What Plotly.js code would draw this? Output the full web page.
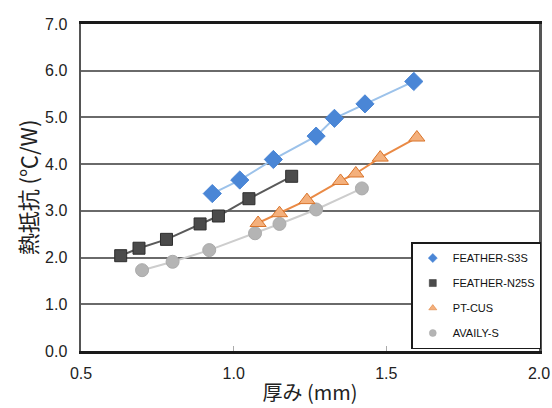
<!DOCTYPE html>
<html>
<head>
<meta charset="utf-8">
<script src="https://cdn.plot.ly/plotly-3.0.1.min.js"></script>
<style>
html,body{margin:0;padding:0;background:#fff;}
#chart{width:552px;height:408px;}
</style>
</head>
<body>
<div id="chart"></div>
<script>
// Series names
const seriesNames = ["FEATHER-S3S", "FEATHER-N25S", "PT-CUS", "AVAILY-S"];

// Thickness (mm) and thermal resistance (°C/W)
const s3sX = [0.93, 1.02, 1.13, 1.27, 1.33, 1.43, 1.59];
const s3sY = [3.37, 3.66, 4.10, 4.60, 4.98, 5.29, 5.77];

const n25sX = [0.63, 0.69, 0.78, 0.89, 0.95, 1.05, 1.19];
const n25sY = [2.04, 2.20, 2.39, 2.72, 2.89, 3.26, 3.74];

const ptcusX = [1.08, 1.15, 1.24, 1.35, 1.40, 1.48, 1.60];
const ptcusY = [2.74, 2.95, 3.23, 3.64, 3.80, 4.14, 4.57];

const availyX = [0.70, 0.80, 0.92, 1.07, 1.15, 1.27, 1.42];
const availyY = [1.73, 1.91, 2.16, 2.52, 2.72, 3.03, 3.48];

// Axis tick labels
const xTickVals = [0.5, 1.0, 1.5, 2.0];
const xTickText = ["0.5", "1.0", "1.5", "2.0"];
const yTickVals = [0, 1, 2, 3, 4, 5, 6, 7];
const yTickText = ["0.0", "1.0", "2.0", "3.0", "4.0", "5.0", "6.0", "7.0"];

const xTitle = "厚み (mm)";
const yTitle = "熱抵抗 (℃/W)";

const styles = [
  {line: "#9cc2ea", fill: "#4a86d6", edge: "#4a86d6", symbol: "diamond", size: 14},
  {line: "#5a5a5a", fill: "#4b4b4b", edge: "#2e2e2e", symbol: "square", size: 12},
  {line: "#ea8a45", fill: "#f4b07c", edge: "#d9742b", symbol: "triangle-up", size: 14},
  {line: "#cdcdcd", fill: "#b4b4b4", edge: "#ababab", symbol: "circle", size: 13}
];
const xs = [s3sX, n25sX, ptcusX, availyX];
const ys = [s3sY, n25sY, ptcusY, availyY];

const traces = [];
// Draw order: N25S, AVAILY, PT-CUS, S3S (so blue sits on top)
[1, 3, 2, 0].forEach(function(i){
  const s = styles[i];
  traces.push({
    type: "scatter", mode: "lines+markers",
    x: xs[i], y: ys[i], name: seriesNames[i], showlegend: false,
    line: {color: s.line, width: 2},
    marker: {symbol: s.symbol, size: s.size, color: s.fill, line: {color: s.edge, width: 1}},
    hoverinfo: "x+y+name"
  });
});
// Legend entries (markers only)
[0, 1, 2, 3].forEach(function(i){
  const s = styles[i];
  traces.push({
    type: "scatter", mode: "markers",
    x: [null], y: [null], name: seriesNames[i], showlegend: true,
    legendgroup: "g" + i, legendrank: i + 1,
    marker: {symbol: s.symbol, size: 7, color: s.fill, line: {color: s.edge, width: 0.5}}
  });
});

const layout = {
  width: 552, height: 408,
  margin: {l: 81, r: 11, t: 24, b: 57},
  paper_bgcolor: "#ffffff", plot_bgcolor: "#ffffff",
  font: {family: "Liberation Sans, Arial, sans-serif", color: "#222", size: 16},
  showlegend: true,
  legend: {
    x: 1.005, xanchor: "right", y: 0.006, yanchor: "bottom",
    bgcolor: "#ffffff", bordercolor: "#1a1a1a", borderwidth: 1.5,
    font: {family: "Liberation Sans, Arial, sans-serif", size: 11, color: "#111"},
    tracegroupgap: 6, itemwidth: 30, traceorder: "grouped"
  },
  xaxis: {
    range: [0.5, 2.0], tickvals: xTickVals, ticktext: xTickText,
    showgrid: false, zeroline: false,
    showline: true, linecolor: "#1a1a1a", linewidth: 3, mirror: true,
    ticks: "inside", ticklen: 5, tickwidth: 1.5, tickcolor: "#aaaaaa",
    ticklabelstandoff: 6,
    tickfont: {size: 16, color: "#222"},
    title: {text: xTitle, standoff: 5, font: {family: "Noto Sans CJK JP, sans-serif", size: 20, color: "#222"}},
    fixedrange: true
  },
  yaxis: {
    range: [0, 7], tickvals: yTickVals, ticktext: yTickText,
    showgrid: true, gridcolor: "#6a6a6a", gridwidth: 2, zeroline: false,
    showline: true, linecolor: "#555555", linewidth: 2.5, mirror: true,
    ticks: "", ticklabelstandoff: 8,
    tickfont: {size: 16, color: "#222"},
    title: {text: yTitle, standoff: 2, font: {family: "Noto Sans CJK JP, sans-serif", size: 22, color: "#222"}},
    fixedrange: true
  }
};

Plotly.newPlot("chart", traces, layout, {displayModeBar: false, staticPlot: true});
</script>
</body>
</html>
